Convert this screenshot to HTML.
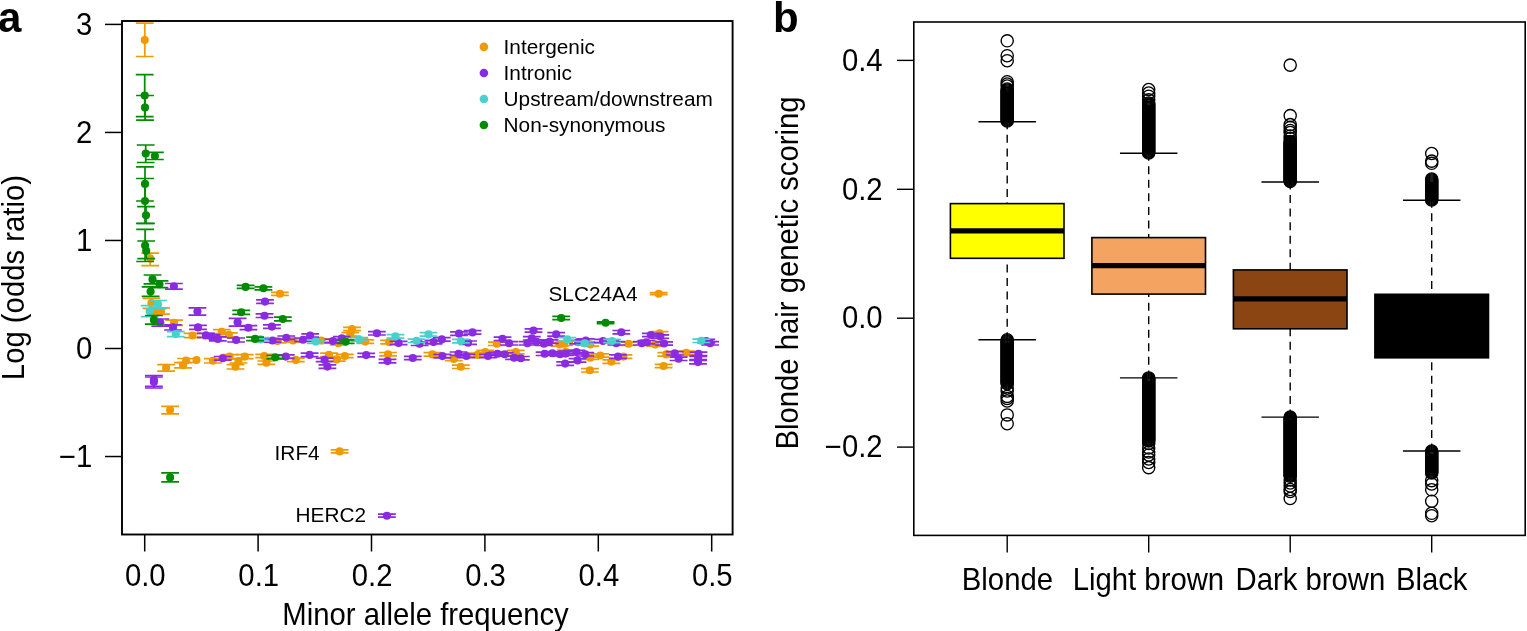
<!DOCTYPE html>
<html><head><meta charset="utf-8"><title>Figure</title>
<style>
html,body{margin:0;padding:0;background:#fff;}
body{width:1527px;height:631px;overflow:hidden;position:relative;}
svg{position:absolute;left:0;top:0;}
svg text{font-family:"Liberation Sans", Arial, Helvetica, sans-serif;fill:#000;}
</style></head><body>
<svg width="1527" height="631" viewBox="0 0 1527 631">
<rect width="1527" height="631" fill="#fff"/>
<text x="-2" y="31.5" font-size="42" font-weight="bold">a</text>
<text x="773" y="31.5" font-size="42" font-weight="bold">b</text>
<rect x="122" y="21" width="610.6" height="513.5" fill="none" stroke="#000" stroke-width="1.9"/>
<line x1="105" y1="24.41" x2="122" y2="24.41" stroke="#000" stroke-width="1.5"/>
<text transform="translate(92.3,34.61) scale(1,1.04)" text-anchor="end" font-size="29.3">3</text>
<line x1="105" y1="132.44" x2="122" y2="132.44" stroke="#000" stroke-width="1.5"/>
<text transform="translate(92.3,142.64) scale(1,1.04)" text-anchor="end" font-size="29.3">2</text>
<line x1="105" y1="240.47" x2="122" y2="240.47" stroke="#000" stroke-width="1.5"/>
<text transform="translate(92.3,250.67) scale(1,1.04)" text-anchor="end" font-size="29.3">1</text>
<line x1="105" y1="348.5" x2="122" y2="348.5" stroke="#000" stroke-width="1.5"/>
<text transform="translate(92.3,358.7) scale(1,1.04)" text-anchor="end" font-size="29.3">0</text>
<line x1="105" y1="456.53" x2="122" y2="456.53" stroke="#000" stroke-width="1.5"/>
<text transform="translate(92.3,466.73) scale(1,1.04)" text-anchor="end" font-size="29.3">−1</text>
<line x1="144.7" y1="534.5" x2="144.7" y2="551.5" stroke="#000" stroke-width="1.5"/>
<text transform="translate(145.3,586.2) scale(1,1.04)" text-anchor="middle" font-size="29.3">0.0</text>
<line x1="258.1" y1="534.5" x2="258.1" y2="551.5" stroke="#000" stroke-width="1.5"/>
<text transform="translate(258.7,586.2) scale(1,1.04)" text-anchor="middle" font-size="29.3">0.1</text>
<line x1="371.5" y1="534.5" x2="371.5" y2="551.5" stroke="#000" stroke-width="1.5"/>
<text transform="translate(372.1,586.2) scale(1,1.04)" text-anchor="middle" font-size="29.3">0.2</text>
<line x1="484.9" y1="534.5" x2="484.9" y2="551.5" stroke="#000" stroke-width="1.5"/>
<text transform="translate(485.5,586.2) scale(1,1.04)" text-anchor="middle" font-size="29.3">0.3</text>
<line x1="598.3" y1="534.5" x2="598.3" y2="551.5" stroke="#000" stroke-width="1.5"/>
<text transform="translate(598.9,586.2) scale(1,1.04)" text-anchor="middle" font-size="29.3">0.4</text>
<line x1="711.7" y1="534.5" x2="711.7" y2="551.5" stroke="#000" stroke-width="1.5"/>
<text transform="translate(712.3,586.2) scale(1,1.04)" text-anchor="middle" font-size="29.3">0.5</text>
<text transform="translate(425.5,625) scale(1,1.04)" text-anchor="middle" font-size="29.3">Minor allele frequency</text>
<text transform="translate(23.8,277.6) rotate(-90) scale(1,1.04)" text-anchor="middle" font-size="29.3">Log (odds ratio)</text>
<circle cx="483.9" cy="46.9" r="4.3" fill="#EE9A00"/>
<text x="503.6" y="54" font-size="20.8">Intergenic</text>
<circle cx="483.9" cy="72.95" r="4.3" fill="#8A2BE2"/>
<text x="503.6" y="80.05" font-size="20.8">Intronic</text>
<circle cx="483.9" cy="99" r="4.3" fill="#48D1CC"/>
<text x="503.6" y="106.1" font-size="20.8">Upstream/downstream</text>
<circle cx="483.9" cy="125.05" r="4.3" fill="#008B00"/>
<text x="503.6" y="132.15" font-size="20.8">Non-synonymous</text>
<text x="548.5" y="300.7" font-size="20.8">SLC24A4</text>
<text x="274.6" y="459.5" font-size="20.8">IRF4</text>
<text x="295.6" y="522.4" font-size="20.8">HERC2</text>
<g stroke-width="1.7" fill="none"><path d="M144.8 23.1V56.5M135.9 23.1H153.7M135.9 56.5H153.7" stroke="#EE9A00"/><circle cx="144.8" cy="40" r="4.05" fill="#EE9A00"/><path d="M150.2 253.1V265.6M141.3 253.1H159.1M141.3 265.6H159.1" stroke="#EE9A00"/><circle cx="150.2" cy="258.4" r="4.05" fill="#EE9A00"/><path d="M151.4 298.3V308.3M142.5 298.3H160.3M142.5 308.3H160.3" stroke="#EE9A00"/><circle cx="151.4" cy="303" r="4.05" fill="#EE9A00"/><path d="M161 307.9V314.1M152.1 307.9H169.9M152.1 314.1H169.9" stroke="#EE9A00"/><circle cx="161" cy="311.6" r="4.05" fill="#EE9A00"/><path d="M156.3 309.3V314.5M147.4 309.3H165.2M147.4 314.5H165.2" stroke="#EE9A00"/><circle cx="156.3" cy="311.9" r="4.05" fill="#EE9A00"/><path d="M174.1 320.1V325.3M165.2 320.1H183M165.2 325.3H183" stroke="#EE9A00"/><circle cx="174.1" cy="322.7" r="4.05" fill="#EE9A00"/><path d="M192.6 333.3V337.7M183.7 333.3H201.5M183.7 337.7H201.5" stroke="#EE9A00"/><circle cx="192.6" cy="335.5" r="4.05" fill="#EE9A00"/><path d="M221.8 329.7V333.7M212.9 329.7H230.7M212.9 333.7H230.7" stroke="#EE9A00"/><circle cx="221.8" cy="331.7" r="4.05" fill="#EE9A00"/><path d="M228.9 332.9V336.9M220 332.9H237.8M220 336.9H237.8" stroke="#EE9A00"/><circle cx="228.9" cy="334.9" r="4.05" fill="#EE9A00"/><path d="M279.9 292.3V295.3M271 292.3H288.8M271 295.3H288.8" stroke="#EE9A00"/><circle cx="279.9" cy="293.8" r="4.05" fill="#EE9A00"/><path d="M166.1 364.6V371.2M157.2 364.6H175M157.2 371.2H175" stroke="#EE9A00"/><circle cx="166.1" cy="367.9" r="4.05" fill="#EE9A00"/><path d="M183 362.7V367.9M174.1 362.7H191.9M174.1 367.9H191.9" stroke="#EE9A00"/><circle cx="183" cy="365.3" r="4.05" fill="#EE9A00"/><path d="M186.1 358.5V362.5M177.2 358.5H195M177.2 362.5H195" stroke="#EE9A00"/><circle cx="186.1" cy="360.5" r="4.05" fill="#EE9A00"/><circle cx="196.5" cy="360" r="4.05" fill="#EE9A00" stroke="none"/><path d="M212.9 358.6V363M204 358.6H221.8M204 363H221.8" stroke="#EE9A00"/><circle cx="212.9" cy="360.8" r="4.05" fill="#EE9A00"/><path d="M229.6 354.6V358.6M220.7 354.6H238.5M220.7 358.6H238.5" stroke="#EE9A00"/><circle cx="229.6" cy="356.6" r="4.05" fill="#EE9A00"/><path d="M235.5 364.6V369M226.6 364.6H244.4M226.6 369H244.4" stroke="#EE9A00"/><circle cx="235.5" cy="366.8" r="4.05" fill="#EE9A00"/><path d="M238.5 359V363M229.6 359H247.4M229.6 363H247.4" stroke="#EE9A00"/><circle cx="238.5" cy="361" r="4.05" fill="#EE9A00"/><path d="M244.8 354.6V358.6M235.9 354.6H253.7M235.9 358.6H253.7" stroke="#EE9A00"/><circle cx="244.8" cy="356.6" r="4.05" fill="#EE9A00"/><path d="M170.1 406.4V413.8M161.2 406.4H179M161.2 413.8H179" stroke="#EE9A00"/><circle cx="170.1" cy="410.1" r="4.05" fill="#EE9A00"/><path d="M277.5 339.4V342.8M268.6 339.4H286.4M268.6 342.8H286.4" stroke="#EE9A00"/><circle cx="277.5" cy="341.1" r="4.05" fill="#EE9A00"/><path d="M293 338.8V342.2M284.1 338.8H301.9M284.1 342.2H301.9" stroke="#EE9A00"/><circle cx="293" cy="340.5" r="4.05" fill="#EE9A00"/><path d="M321.3 338.8V342.2M312.4 338.8H330.2M312.4 342.2H330.2" stroke="#EE9A00"/><circle cx="321.3" cy="340.5" r="4.05" fill="#EE9A00"/><path d="M338.5 341.6V345M329.6 341.6H347.4M329.6 345H347.4" stroke="#EE9A00"/><circle cx="338.5" cy="343.3" r="4.05" fill="#EE9A00"/><path d="M352 327.3V330.7M343.1 327.3H360.9M343.1 330.7H360.9" stroke="#EE9A00"/><circle cx="352" cy="329" r="4.05" fill="#EE9A00"/><path d="M350.3 332.7V336.1M341.4 332.7H359.2M341.4 336.1H359.2" stroke="#EE9A00"/><circle cx="350.3" cy="334.4" r="4.05" fill="#EE9A00"/><path d="M264.2 354.3V357.7M255.3 354.3H273.1M255.3 357.7H273.1" stroke="#EE9A00"/><circle cx="264.2" cy="356" r="4.05" fill="#EE9A00"/><path d="M266.4 361V364.4M257.5 361H275.3M257.5 364.4H275.3" stroke="#EE9A00"/><circle cx="266.4" cy="362.7" r="4.05" fill="#EE9A00"/><path d="M295.8 358.2V361.6M286.9 358.2H304.7M286.9 361.6H304.7" stroke="#EE9A00"/><circle cx="295.8" cy="359.9" r="4.05" fill="#EE9A00"/><path d="M329 353.2V356.6M320.1 353.2H337.9M320.1 356.6H337.9" stroke="#EE9A00"/><circle cx="329" cy="354.9" r="4.05" fill="#EE9A00"/><path d="M336.8 357.7V361.1M327.9 357.7H345.7M327.9 361.1H345.7" stroke="#EE9A00"/><circle cx="336.8" cy="359.4" r="4.05" fill="#EE9A00"/><path d="M344.8 354.3V357.7M335.9 354.3H353.7M335.9 357.7H353.7" stroke="#EE9A00"/><circle cx="344.8" cy="356" r="4.05" fill="#EE9A00"/><path d="M365.3 339.9V343.3M356.4 339.9H374.2M356.4 343.3H374.2" stroke="#EE9A00"/><circle cx="365.3" cy="341.6" r="4.05" fill="#EE9A00"/><path d="M389.1 340.4V343.8M380.2 340.4H398M380.2 343.8H398" stroke="#EE9A00"/><circle cx="389.1" cy="342.1" r="4.05" fill="#EE9A00"/><path d="M388 352.5V355.9M379.1 352.5H396.9M379.1 355.9H396.9" stroke="#EE9A00"/><circle cx="388" cy="354.2" r="4.05" fill="#EE9A00"/><path d="M432.4 352.7V356.1M423.5 352.7H441.3M423.5 356.1H441.3" stroke="#EE9A00"/><circle cx="432.4" cy="354.4" r="4.05" fill="#EE9A00"/><path d="M453.8 357.3V360.7M444.9 357.3H462.7M444.9 360.7H462.7" stroke="#EE9A00"/><circle cx="453.8" cy="359" r="4.05" fill="#EE9A00"/><path d="M460.8 365.1V368.5M451.9 365.1H469.7M451.9 368.5H469.7" stroke="#EE9A00"/><circle cx="460.8" cy="366.8" r="4.05" fill="#EE9A00"/><path d="M496.9 342.1V345.5M488 342.1H505.8M488 345.5H505.8" stroke="#EE9A00"/><circle cx="496.9" cy="343.8" r="4.05" fill="#EE9A00"/><path d="M559.6 342.7V346.1M550.7 342.7H568.5M550.7 346.1H568.5" stroke="#EE9A00"/><circle cx="559.6" cy="344.4" r="4.05" fill="#EE9A00"/><path d="M477.5 353.2V356.6M468.6 353.2H486.4M468.6 356.6H486.4" stroke="#EE9A00"/><circle cx="477.5" cy="354.9" r="4.05" fill="#EE9A00"/><path d="M485.3 350.4V353.8M476.4 350.4H494.2M476.4 353.8H494.2" stroke="#EE9A00"/><circle cx="485.3" cy="352.1" r="4.05" fill="#EE9A00"/><path d="M515.8 350.4V353.8M506.9 350.4H524.7M506.9 353.8H524.7" stroke="#EE9A00"/><circle cx="515.8" cy="352.1" r="4.05" fill="#EE9A00"/><path d="M566 350.1V353.5M557.1 350.1H574.9M557.1 353.5H574.9" stroke="#EE9A00"/><circle cx="566" cy="351.8" r="4.05" fill="#EE9A00"/><path d="M564.2 342.1V345.5M555.3 342.1H573.1M555.3 345.5H573.1" stroke="#EE9A00"/><circle cx="564.2" cy="343.8" r="4.05" fill="#EE9A00"/><path d="M590.3 342.7V346.1M581.4 342.7H599.2M581.4 346.1H599.2" stroke="#EE9A00"/><circle cx="590.3" cy="344.4" r="4.05" fill="#EE9A00"/><path d="M628.5 342.1V345.5M619.6 342.1H637.4M619.6 345.5H637.4" stroke="#EE9A00"/><circle cx="628.5" cy="343.8" r="4.05" fill="#EE9A00"/><path d="M659.7 331.6V335M650.8 331.6H668.6M650.8 335H668.6" stroke="#EE9A00"/><circle cx="659.7" cy="333.3" r="4.05" fill="#EE9A00"/><path d="M655.3 342.7V346.1M646.4 342.7H664.2M646.4 346.1H664.2" stroke="#EE9A00"/><circle cx="655.3" cy="344.4" r="4.05" fill="#EE9A00"/><path d="M590.3 356V359.4M581.4 356H599.2M581.4 359.4H599.2" stroke="#EE9A00"/><circle cx="590.3" cy="357.7" r="4.05" fill="#EE9A00"/><path d="M600.3 353.8V357.2M591.4 353.8H609.2M591.4 357.2H609.2" stroke="#EE9A00"/><circle cx="600.3" cy="355.5" r="4.05" fill="#EE9A00"/><path d="M611.4 359.9V363.3M602.5 359.9H620.3M602.5 363.3H620.3" stroke="#EE9A00"/><circle cx="611.4" cy="361.6" r="4.05" fill="#EE9A00"/><path d="M623.5 354.9V358.3M614.6 354.9H632.4M614.6 358.3H632.4" stroke="#EE9A00"/><circle cx="623.5" cy="356.6" r="4.05" fill="#EE9A00"/><path d="M589.9 368.6V372M581 368.6H598.8M581 372H598.8" stroke="#EE9A00"/><circle cx="589.9" cy="370.3" r="4.05" fill="#EE9A00"/><path d="M666.3 352.7V356.1M657.4 352.7H675.2M657.4 356.1H675.2" stroke="#EE9A00"/><circle cx="666.3" cy="354.4" r="4.05" fill="#EE9A00"/><path d="M663.6 364.3V367.7M654.7 364.3H672.5M654.7 367.7H672.5" stroke="#EE9A00"/><circle cx="663.6" cy="366" r="4.05" fill="#EE9A00"/><path d="M686.3 351V354.4M677.4 351H695.2M677.4 354.4H695.2" stroke="#EE9A00"/><circle cx="686.3" cy="352.7" r="4.05" fill="#EE9A00"/><path d="M658.7 292.7V294.7M649.8 292.7H667.6M649.8 294.7H667.6" stroke="#EE9A00"/><circle cx="658.7" cy="293.7" r="4.05" fill="#EE9A00"/><path d="M339.6 449.9V452.9M330.7 449.9H348.5M330.7 452.9H348.5" stroke="#EE9A00"/><circle cx="339.6" cy="451.4" r="4.05" fill="#EE9A00"/><path d="M173.9 283.5V289.2M165 283.5H182.8M165 289.2H182.8" stroke="#8A2BE2"/><circle cx="173.9" cy="286.2" r="4.05" fill="#8A2BE2"/><path d="M160.3 319V326.2M151.4 319H169.2M151.4 326.2H169.2" stroke="#8A2BE2"/><circle cx="160.3" cy="322.6" r="4.05" fill="#8A2BE2"/><path d="M173 324.8V330M164.1 324.8H181.9M164.1 330H181.9" stroke="#8A2BE2"/><circle cx="173" cy="327.4" r="4.05" fill="#8A2BE2"/><path d="M197.4 307.9V315.1M188.5 307.9H206.3M188.5 315.1H206.3" stroke="#8A2BE2"/><circle cx="197.4" cy="311.5" r="4.05" fill="#8A2BE2"/><path d="M198 325.4V329.4M189.1 325.4H206.9M189.1 329.4H206.9" stroke="#8A2BE2"/><circle cx="198" cy="327.4" r="4.05" fill="#8A2BE2"/><path d="M205.9 333.3V337.3M197 333.3H214.8M197 337.3H214.8" stroke="#8A2BE2"/><circle cx="205.9" cy="335.3" r="4.05" fill="#8A2BE2"/><path d="M211.5 334.5V338.5M202.6 334.5H220.4M202.6 338.5H220.4" stroke="#8A2BE2"/><circle cx="211.5" cy="336.5" r="4.05" fill="#8A2BE2"/><path d="M217.8 336.9V340.9M208.9 336.9H226.7M208.9 340.9H226.7" stroke="#8A2BE2"/><circle cx="217.8" cy="338.9" r="4.05" fill="#8A2BE2"/><path d="M236.1 338V342M227.2 338H245M227.2 342H245" stroke="#8A2BE2"/><circle cx="236.1" cy="340" r="4.05" fill="#8A2BE2"/><path d="M237.6 318.3V326.1M228.7 318.3H246.5M228.7 326.1H246.5" stroke="#8A2BE2"/><circle cx="237.6" cy="322.2" r="4.05" fill="#8A2BE2"/><path d="M248.4 325.7V329.7M239.5 325.7H257.3M239.5 329.7H257.3" stroke="#8A2BE2"/><circle cx="248.4" cy="327.7" r="4.05" fill="#8A2BE2"/><path d="M265 299.8V303.4M256.1 299.8H273.9M256.1 303.4H273.9" stroke="#8A2BE2"/><circle cx="265" cy="301.6" r="4.05" fill="#8A2BE2"/><path d="M264.5 313.9V317.5M255.6 313.9H273.4M255.6 317.5H273.4" stroke="#8A2BE2"/><circle cx="264.5" cy="315.7" r="4.05" fill="#8A2BE2"/><path d="M271.9 324.8V328.4M263 324.8H280.8M263 328.4H280.8" stroke="#8A2BE2"/><circle cx="271.9" cy="326.6" r="4.05" fill="#8A2BE2"/><path d="M153.9 375.5V386.3M145 375.5H162.8M145 386.3H162.8" stroke="#8A2BE2"/><circle cx="153.9" cy="379.8" r="4.05" fill="#8A2BE2"/><path d="M153.9 377V388M145 377H162.8M145 388H162.8" stroke="#8A2BE2"/><circle cx="153.9" cy="382" r="4.05" fill="#8A2BE2"/><path d="M222.7 356.5V360.1M213.8 356.5H231.6M213.8 360.1H231.6" stroke="#8A2BE2"/><circle cx="222.7" cy="358.3" r="4.05" fill="#8A2BE2"/><path d="M272.5 338.8V342.2M263.6 338.8H281.4M263.6 342.2H281.4" stroke="#8A2BE2"/><circle cx="272.5" cy="340.5" r="4.05" fill="#8A2BE2"/><path d="M286.3 336V339.4M277.4 336H295.2M277.4 339.4H295.2" stroke="#8A2BE2"/><circle cx="286.3" cy="337.7" r="4.05" fill="#8A2BE2"/><path d="M303 338V341.4M294.1 338H311.9M294.1 341.4H311.9" stroke="#8A2BE2"/><circle cx="303" cy="339.7" r="4.05" fill="#8A2BE2"/><path d="M310.2 333.8V337.2M301.3 333.8H319.1M301.3 337.2H319.1" stroke="#8A2BE2"/><circle cx="310.2" cy="335.5" r="4.05" fill="#8A2BE2"/><path d="M332.9 339.4V342.8M324 339.4H341.8M324 342.8H341.8" stroke="#8A2BE2"/><circle cx="332.9" cy="341.1" r="4.05" fill="#8A2BE2"/><path d="M341.8 336.6V340M332.9 336.6H350.7M332.9 340H350.7" stroke="#8A2BE2"/><circle cx="341.8" cy="338.3" r="4.05" fill="#8A2BE2"/><path d="M285.8 354.9V358.3M276.9 354.9H294.7M276.9 358.3H294.7" stroke="#8A2BE2"/><circle cx="285.8" cy="356.6" r="4.05" fill="#8A2BE2"/><path d="M309.6 353.2V356.6M300.7 353.2H318.5M300.7 356.6H318.5" stroke="#8A2BE2"/><circle cx="309.6" cy="354.9" r="4.05" fill="#8A2BE2"/><path d="M324.6 358.2V361.6M315.7 358.2H333.5M315.7 361.6H333.5" stroke="#8A2BE2"/><circle cx="324.6" cy="359.9" r="4.05" fill="#8A2BE2"/><path d="M327.4 364.9V368.3M318.5 364.9H336.3M318.5 368.3H336.3" stroke="#8A2BE2"/><circle cx="327.4" cy="366.6" r="4.05" fill="#8A2BE2"/><path d="M376.9 331.6V335M368 331.6H385.8M368 335H385.8" stroke="#8A2BE2"/><circle cx="376.9" cy="333.3" r="4.05" fill="#8A2BE2"/><path d="M398.6 341.3V344.7M389.7 341.3H407.5M389.7 344.7H407.5" stroke="#8A2BE2"/><circle cx="398.6" cy="343" r="4.05" fill="#8A2BE2"/><path d="M419.6 342.1V345.5M410.7 342.1H428.5M410.7 345.5H428.5" stroke="#8A2BE2"/><circle cx="419.6" cy="343.8" r="4.05" fill="#8A2BE2"/><path d="M433.5 340.4V343.8M424.6 340.4H442.4M424.6 343.8H442.4" stroke="#8A2BE2"/><circle cx="433.5" cy="342.1" r="4.05" fill="#8A2BE2"/><path d="M441.8 337.7V341.1M432.9 337.7H450.7M432.9 341.1H450.7" stroke="#8A2BE2"/><circle cx="441.8" cy="339.4" r="4.05" fill="#8A2BE2"/><path d="M459 331.9V335.3M450.1 331.9H467.9M450.1 335.3H467.9" stroke="#8A2BE2"/><circle cx="459" cy="333.6" r="4.05" fill="#8A2BE2"/><path d="M366.2 353.4V356.8M357.3 353.4H375.1M357.3 356.8H375.1" stroke="#8A2BE2"/><circle cx="366.2" cy="355.1" r="4.05" fill="#8A2BE2"/><path d="M387.5 359.4V362.8M378.6 359.4H396.4M378.6 362.8H396.4" stroke="#8A2BE2"/><circle cx="387.5" cy="361.1" r="4.05" fill="#8A2BE2"/><path d="M412.8 356.3V359.7M403.9 356.3H421.7M403.9 359.7H421.7" stroke="#8A2BE2"/><circle cx="412.8" cy="358" r="4.05" fill="#8A2BE2"/><path d="M442.4 354.4V357.8M433.5 354.4H451.3M433.5 357.8H451.3" stroke="#8A2BE2"/><circle cx="442.4" cy="356.1" r="4.05" fill="#8A2BE2"/><path d="M458.5 352V355.4M449.6 352H467.4M449.6 355.4H467.4" stroke="#8A2BE2"/><circle cx="458.5" cy="353.7" r="4.05" fill="#8A2BE2"/><path d="M472.5 330.7V334.1M463.6 330.7H481.4M463.6 334.1H481.4" stroke="#8A2BE2"/><circle cx="472.5" cy="332.4" r="4.05" fill="#8A2BE2"/><path d="M468.1 341V344.4M459.2 341H477M459.2 344.4H477" stroke="#8A2BE2"/><circle cx="468.1" cy="342.7" r="4.05" fill="#8A2BE2"/><path d="M502.5 337.1V340.5M493.6 337.1H511.4M493.6 340.5H511.4" stroke="#8A2BE2"/><circle cx="502.5" cy="338.8" r="4.05" fill="#8A2BE2"/><path d="M509.1 341.6V345M500.2 341.6H518M500.2 345H518" stroke="#8A2BE2"/><circle cx="509.1" cy="343.3" r="4.05" fill="#8A2BE2"/><path d="M533.5 328.8V332.2M524.6 328.8H542.4M524.6 332.2H542.4" stroke="#8A2BE2"/><circle cx="533.5" cy="330.5" r="4.05" fill="#8A2BE2"/><path d="M531.8 336.6V340M522.9 336.6H540.7M522.9 340H540.7" stroke="#8A2BE2"/><circle cx="531.8" cy="338.3" r="4.05" fill="#8A2BE2"/><path d="M527.4 341.6V345M518.5 341.6H536.3M518.5 345H536.3" stroke="#8A2BE2"/><circle cx="527.4" cy="343.3" r="4.05" fill="#8A2BE2"/><path d="M536.3 339.9V343.3M527.4 339.9H545.2M527.4 343.3H545.2" stroke="#8A2BE2"/><circle cx="536.3" cy="341.6" r="4.05" fill="#8A2BE2"/><path d="M544 342.1V345.5M535.1 342.1H552.9M535.1 345.5H552.9" stroke="#8A2BE2"/><circle cx="544" cy="343.8" r="4.05" fill="#8A2BE2"/><path d="M549.6 339.9V343.3M540.7 339.9H558.5M540.7 343.3H558.5" stroke="#8A2BE2"/><circle cx="549.6" cy="341.6" r="4.05" fill="#8A2BE2"/><path d="M556.2 332.7V336.1M547.3 332.7H565.1M547.3 336.1H565.1" stroke="#8A2BE2"/><circle cx="556.2" cy="334.4" r="4.05" fill="#8A2BE2"/><path d="M466.4 354.3V357.7M457.5 354.3H475.3M457.5 357.7H475.3" stroke="#8A2BE2"/><circle cx="466.4" cy="356" r="4.05" fill="#8A2BE2"/><path d="M488 354.3V357.7M479.1 354.3H496.9M479.1 357.7H496.9" stroke="#8A2BE2"/><circle cx="488" cy="356" r="4.05" fill="#8A2BE2"/><path d="M497.5 352.1V355.5M488.6 352.1H506.4M488.6 355.5H506.4" stroke="#8A2BE2"/><circle cx="497.5" cy="353.8" r="4.05" fill="#8A2BE2"/><path d="M504.7 352.6V356M495.8 352.6H513.6M495.8 356H513.6" stroke="#8A2BE2"/><circle cx="504.7" cy="354.3" r="4.05" fill="#8A2BE2"/><path d="M514.1 356V359.4M505.2 356H523M505.2 359.4H523" stroke="#8A2BE2"/><circle cx="514.1" cy="357.7" r="4.05" fill="#8A2BE2"/><path d="M520.8 356.5V359.9M511.9 356.5H529.7M511.9 359.9H529.7" stroke="#8A2BE2"/><circle cx="520.8" cy="358.2" r="4.05" fill="#8A2BE2"/><path d="M544.6 352.1V355.5M535.7 352.1H553.5M535.7 355.5H553.5" stroke="#8A2BE2"/><circle cx="544.6" cy="353.8" r="4.05" fill="#8A2BE2"/><path d="M552.4 351.5V354.9M543.5 351.5H561.3M543.5 354.9H561.3" stroke="#8A2BE2"/><circle cx="552.4" cy="353.2" r="4.05" fill="#8A2BE2"/><path d="M560.1 352.6V356M551.2 352.6H569M551.2 356H569" stroke="#8A2BE2"/><circle cx="560.1" cy="354.3" r="4.05" fill="#8A2BE2"/><path d="M565.2 361.9V365.3M556.3 361.9H574.1M556.3 365.3H574.1" stroke="#8A2BE2"/><circle cx="565.2" cy="363.6" r="4.05" fill="#8A2BE2"/><path d="M621.3 330.5V333.9M612.4 330.5H630.2M612.4 333.9H630.2" stroke="#8A2BE2"/><circle cx="621.3" cy="332.2" r="4.05" fill="#8A2BE2"/><path d="M578.1 340.4V343.8M569.2 340.4H587M569.2 343.8H587" stroke="#8A2BE2"/><circle cx="578.1" cy="342.1" r="4.05" fill="#8A2BE2"/><path d="M585.8 338.8V342.2M576.9 338.8H594.7M576.9 342.2H594.7" stroke="#8A2BE2"/><circle cx="585.8" cy="340.5" r="4.05" fill="#8A2BE2"/><path d="M603 339.3V342.7M594.1 339.3H611.9M594.1 342.7H611.9" stroke="#8A2BE2"/><circle cx="603" cy="341" r="4.05" fill="#8A2BE2"/><path d="M616.3 341.6V345M607.4 341.6H625.2M607.4 345H625.2" stroke="#8A2BE2"/><circle cx="616.3" cy="343.3" r="4.05" fill="#8A2BE2"/><path d="M641.8 341.6V345M632.9 341.6H650.7M632.9 345H650.7" stroke="#8A2BE2"/><circle cx="641.8" cy="343.3" r="4.05" fill="#8A2BE2"/><path d="M646.4 340.5V343.9M637.5 340.5H655.3M637.5 343.9H655.3" stroke="#8A2BE2"/><circle cx="646.4" cy="342.2" r="4.05" fill="#8A2BE2"/><path d="M650.8 333.3V336.7M641.9 333.3H659.7M641.9 336.7H659.7" stroke="#8A2BE2"/><circle cx="650.8" cy="335" r="4.05" fill="#8A2BE2"/><path d="M660.3 334.9V338.3M651.4 334.9H669.2M651.4 338.3H669.2" stroke="#8A2BE2"/><circle cx="660.3" cy="336.6" r="4.05" fill="#8A2BE2"/><path d="M664.1 341.8V345.2M655.2 341.8H673M655.2 345.2H673" stroke="#8A2BE2"/><circle cx="664.1" cy="343.5" r="4.05" fill="#8A2BE2"/><path d="M565.3 351.9V355.3M556.4 351.9H574.2M556.4 355.3H574.2" stroke="#8A2BE2"/><circle cx="565.3" cy="353.6" r="4.05" fill="#8A2BE2"/><path d="M576.4 350.4V353.8M567.5 350.4H585.3M567.5 353.8H585.3" stroke="#8A2BE2"/><circle cx="576.4" cy="352.1" r="4.05" fill="#8A2BE2"/><path d="M585.3 352.6V356M576.4 352.6H594.2M576.4 356H594.2" stroke="#8A2BE2"/><circle cx="585.3" cy="354.3" r="4.05" fill="#8A2BE2"/><path d="M577.5 358.7V362.1M568.6 358.7H586.4M568.6 362.1H586.4" stroke="#8A2BE2"/><circle cx="577.5" cy="360.4" r="4.05" fill="#8A2BE2"/><path d="M618 354.9V358.3M609.1 354.9H626.9M609.1 358.3H626.9" stroke="#8A2BE2"/><circle cx="618" cy="356.6" r="4.05" fill="#8A2BE2"/><path d="M674.7 351.6V355M665.8 351.6H683.6M665.8 355H683.6" stroke="#8A2BE2"/><circle cx="674.7" cy="353.3" r="4.05" fill="#8A2BE2"/><path d="M678.6 357.1V360.5M669.7 357.1H687.5M669.7 360.5H687.5" stroke="#8A2BE2"/><circle cx="678.6" cy="358.8" r="4.05" fill="#8A2BE2"/><path d="M698.5 352.1V355.5M689.6 352.1H707.4M689.6 355.5H707.4" stroke="#8A2BE2"/><circle cx="698.5" cy="353.8" r="4.05" fill="#8A2BE2"/><path d="M698 360.4V363.8M689.1 360.4H706.9M689.1 363.8H706.9" stroke="#8A2BE2"/><circle cx="698" cy="362.1" r="4.05" fill="#8A2BE2"/><path d="M698.2 356.3V359.7M689.3 356.3H707.1M689.3 359.7H707.1" stroke="#8A2BE2"/><circle cx="698.2" cy="358" r="4.05" fill="#8A2BE2"/><path d="M706.3 339.4V342.8M697.4 339.4H715.2M697.4 342.8H715.2" stroke="#8A2BE2"/><circle cx="706.3" cy="341.1" r="4.05" fill="#8A2BE2"/><path d="M710.2 341.6V345M701.3 341.6H719.1M701.3 345H719.1" stroke="#8A2BE2"/><circle cx="710.2" cy="343.3" r="4.05" fill="#8A2BE2"/><path d="M386.9 514.2V517.2M378 514.2H395.8M378 517.2H395.8" stroke="#8A2BE2"/><circle cx="386.9" cy="515.7" r="4.05" fill="#8A2BE2"/><path d="M158 300.5V308.3M149.1 300.5H166.9M149.1 308.3H166.9" stroke="#48D1CC"/><circle cx="158" cy="304.4" r="4.05" fill="#48D1CC"/><path d="M149.7 305.7V316.6M140.8 305.7H158.6M140.8 316.6H158.6" stroke="#48D1CC"/><circle cx="149.7" cy="311.3" r="4.05" fill="#48D1CC"/><path d="M175.8 331.6V336.6M166.9 331.6H184.7M166.9 336.6H184.7" stroke="#48D1CC"/><circle cx="175.8" cy="334.1" r="4.05" fill="#48D1CC"/><path d="M260.6 337.7V341.1M251.7 337.7H269.5M251.7 341.1H269.5" stroke="#48D1CC"/><circle cx="260.6" cy="339.4" r="4.05" fill="#48D1CC"/><path d="M315.7 339.9V343.3M306.8 339.9H324.6M306.8 343.3H324.6" stroke="#48D1CC"/><circle cx="315.7" cy="341.6" r="4.05" fill="#48D1CC"/><path d="M359.2 337.7V341.1M350.3 337.7H368.1M350.3 341.1H368.1" stroke="#48D1CC"/><circle cx="359.2" cy="339.4" r="4.05" fill="#48D1CC"/><path d="M395.5 334.7V338.1M386.6 334.7H404.4M386.6 338.1H404.4" stroke="#48D1CC"/><circle cx="395.5" cy="336.4" r="4.05" fill="#48D1CC"/><path d="M416.5 339.1V342.5M407.6 339.1H425.4M407.6 342.5H425.4" stroke="#48D1CC"/><circle cx="416.5" cy="340.8" r="4.05" fill="#48D1CC"/><path d="M428.5 332.7V336.1M419.6 332.7H437.4M419.6 336.1H437.4" stroke="#48D1CC"/><circle cx="428.5" cy="334.4" r="4.05" fill="#48D1CC"/><path d="M460.8 339.4V342.8M451.9 339.4H469.7M451.9 342.8H469.7" stroke="#48D1CC"/><circle cx="460.8" cy="341.1" r="4.05" fill="#48D1CC"/><path d="M567.3 337.7V341.1M558.4 337.7H576.2M558.4 341.1H576.2" stroke="#48D1CC"/><circle cx="567.3" cy="339.4" r="4.05" fill="#48D1CC"/><path d="M584.7 341.6V345M575.8 341.6H593.6M575.8 345H593.6" stroke="#48D1CC"/><circle cx="584.7" cy="343.3" r="4.05" fill="#48D1CC"/><path d="M612.1 339.3V342.7M603.2 339.3H621M603.2 342.7H621" stroke="#48D1CC"/><circle cx="612.1" cy="341" r="4.05" fill="#48D1CC"/><path d="M701.3 339.1V342.5M692.4 339.1H710.2M692.4 342.5H710.2" stroke="#48D1CC"/><circle cx="701.3" cy="340.8" r="4.05" fill="#48D1CC"/><path d="M144.7 74.7V116.6M135.8 74.7H153.6M135.8 116.6H153.6" stroke="#008B00"/><circle cx="144.7" cy="95.5" r="4.05" fill="#008B00"/><path d="M145 95.5V120.1M136.1 95.5H153.9M136.1 120.1H153.9" stroke="#008B00"/><circle cx="145" cy="107.5" r="4.05" fill="#008B00"/><path d="M145.7 145V162.5M136.8 145H154.6M136.8 162.5H154.6" stroke="#008B00"/><circle cx="145.7" cy="153.5" r="4.05" fill="#008B00"/><path d="M154.9 152.4V159.5M146 152.4H163.8M146 159.5H163.8" stroke="#008B00"/><circle cx="154.9" cy="156" r="4.05" fill="#008B00"/><path d="M145 166.8V201M136.1 166.8H153.9M136.1 201H153.9" stroke="#008B00"/><circle cx="145" cy="183.9" r="4.05" fill="#008B00"/><path d="M145 178.5V223.3M136.1 178.5H153.9M136.1 223.3H153.9" stroke="#008B00"/><circle cx="145" cy="201" r="4.05" fill="#008B00"/><path d="M146 206.7V223.5M137.1 206.7H154.9M137.1 223.5H154.9" stroke="#008B00"/><circle cx="146" cy="215.2" r="4.05" fill="#008B00"/><path d="M145.1 229.3V261.5M136.2 229.3H154M136.2 261.5H154" stroke="#008B00"/><circle cx="145.1" cy="245.5" r="4.05" fill="#008B00"/><path d="M146.2 241V258.6M137.3 241H155.1M137.3 258.6H155.1" stroke="#008B00"/><circle cx="146.2" cy="250.9" r="4.05" fill="#008B00"/><path d="M152.5 275V283.9M143.6 275H161.4M143.6 283.9H161.4" stroke="#008B00"/><circle cx="152.5" cy="279.4" r="4.05" fill="#008B00"/><path d="M159.5 280.9V287.7M150.6 280.9H168.4M150.6 287.7H168.4" stroke="#008B00"/><circle cx="159.5" cy="284.2" r="4.05" fill="#008B00"/><path d="M150.6 286.9V296.3M141.7 286.9H159.5M141.7 296.3H159.5" stroke="#008B00"/><circle cx="150.6" cy="291.6" r="4.05" fill="#008B00"/><path d="M153.9 315.5V324.1M145 315.5H162.8M145 324.1H162.8" stroke="#008B00"/><circle cx="153.9" cy="319.9" r="4.05" fill="#008B00"/><path d="M241.2 310.3V314.3M232.3 310.3H250.1M232.3 314.3H250.1" stroke="#008B00"/><circle cx="241.2" cy="312.3" r="4.05" fill="#008B00"/><path d="M245.6 285.4V288.4M236.7 285.4H254.5M236.7 288.4H254.5" stroke="#008B00"/><circle cx="245.6" cy="286.9" r="4.05" fill="#008B00"/><path d="M263.4 286.8V289.8M254.5 286.8H272.3M254.5 289.8H272.3" stroke="#008B00"/><circle cx="263.4" cy="288.3" r="4.05" fill="#008B00"/><path d="M282.8 317.2V320.8M273.9 317.2H291.7M273.9 320.8H291.7" stroke="#008B00"/><circle cx="282.8" cy="319" r="4.05" fill="#008B00"/><path d="M170.1 472.9V481.9M161.2 472.9H179M161.2 481.9H179" stroke="#008B00"/><circle cx="170.1" cy="477.4" r="4.05" fill="#008B00"/><path d="M255.1 337.2V340.6M246.2 337.2H264M246.2 340.6H264" stroke="#008B00"/><circle cx="255.1" cy="338.9" r="4.05" fill="#008B00"/><path d="M345.7 339.9V343.3M336.8 339.9H354.6M336.8 343.3H354.6" stroke="#008B00"/><circle cx="345.7" cy="341.6" r="4.05" fill="#008B00"/><path d="M275.3 355.5V358.9M266.4 355.5H284.2M266.4 358.9H284.2" stroke="#008B00"/><circle cx="275.3" cy="357.2" r="4.05" fill="#008B00"/><path d="M561.2 316.3V319.7M552.3 316.3H570.1M552.3 319.7H570.1" stroke="#008B00"/><circle cx="561.2" cy="318" r="4.05" fill="#008B00"/><path d="M605.6 321.9V323.7M596.7 321.9H614.5M596.7 323.7H614.5" stroke="#008B00"/><circle cx="605.6" cy="322.8" r="4.05" fill="#008B00"/></g>
<rect x="913.8" y="22" width="611.4" height="513.4" fill="none" stroke="#000" stroke-width="1.6"/>
<line x1="897" y1="60.4" x2="913.8" y2="60.4" stroke="#000" stroke-width="1.4"/>
<text transform="translate(882.6,70.6) scale(1,1.04)" text-anchor="end" font-size="29.3">0.4</text>
<line x1="897" y1="189.3" x2="913.8" y2="189.3" stroke="#000" stroke-width="1.4"/>
<text transform="translate(882.6,199.5) scale(1,1.04)" text-anchor="end" font-size="29.3">0.2</text>
<line x1="897" y1="318.2" x2="913.8" y2="318.2" stroke="#000" stroke-width="1.4"/>
<text transform="translate(882.6,328.4) scale(1,1.04)" text-anchor="end" font-size="29.3">0.0</text>
<line x1="897" y1="447.1" x2="913.8" y2="447.1" stroke="#000" stroke-width="1.4"/>
<text transform="translate(882.6,457.3) scale(1,1.04)" text-anchor="end" font-size="29.3">−0.2</text>
<line x1="1007.2" y1="535.4" x2="1007.2" y2="552.5" stroke="#000" stroke-width="1.4"/>
<text transform="translate(1007.4,589.7) scale(1,1.04)" text-anchor="middle" font-size="29.3">Blonde</text>
<line x1="1148.7" y1="535.4" x2="1148.7" y2="552.5" stroke="#000" stroke-width="1.4"/>
<text transform="translate(1148.4,589.7) scale(1,1.04)" text-anchor="middle" font-size="29.3">Light brown</text>
<line x1="1290.2" y1="535.4" x2="1290.2" y2="552.5" stroke="#000" stroke-width="1.4"/>
<text transform="translate(1310.4,589.7) scale(1,1.04)" text-anchor="middle" font-size="29.3">Dark brown</text>
<line x1="1431.7" y1="535.4" x2="1431.7" y2="552.5" stroke="#000" stroke-width="1.4"/>
<text transform="translate(1431.7,589.7) scale(1,1.04)" text-anchor="middle" font-size="29.3">Black</text>
<text transform="translate(798.3,273) rotate(-90) scale(1,1.04)" text-anchor="middle" font-size="29.3">Blonde hair genetic scoring</text>
<line x1="1007.2" y1="121.3" x2="1007.2" y2="203.6" stroke="#000" stroke-width="1.4" stroke-dasharray="8 5.55"/>
<line x1="1007.2" y1="340.2" x2="1007.2" y2="258.3" stroke="#000" stroke-width="1.4" stroke-dasharray="8 5.55"/>
<line x1="978.45" y1="121.8" x2="1035.95" y2="121.8" stroke="#000" stroke-width="1.4"/>
<line x1="978.45" y1="339.7" x2="1035.95" y2="339.7" stroke="#000" stroke-width="1.4"/>
<rect x="950.4" y="203.6" width="113.6" height="54.7" fill="#FFFF00" stroke="#000" stroke-width="1.6"/>
<line x1="950.4" y1="230.9" x2="1064" y2="230.9" stroke="#000" stroke-width="5.1"/>
<g fill="none" stroke="#000" stroke-width="1.35"><circle cx="1007.2" cy="89" r="6.1"/><circle cx="1007.2" cy="90" r="6.1"/><circle cx="1007.2" cy="91" r="6.1"/><circle cx="1007.2" cy="92" r="6.1"/><circle cx="1007.2" cy="93" r="6.1"/><circle cx="1007.2" cy="94" r="6.1"/><circle cx="1007.2" cy="95" r="6.1"/><circle cx="1007.2" cy="96" r="6.1"/><circle cx="1007.2" cy="97" r="6.1"/><circle cx="1007.2" cy="98" r="6.1"/><circle cx="1007.2" cy="99" r="6.1"/><circle cx="1007.2" cy="100" r="6.1"/><circle cx="1007.2" cy="101" r="6.1"/><circle cx="1007.2" cy="102" r="6.1"/><circle cx="1007.2" cy="103" r="6.1"/><circle cx="1007.2" cy="104" r="6.1"/><circle cx="1007.2" cy="105" r="6.1"/><circle cx="1007.2" cy="106" r="6.1"/><circle cx="1007.2" cy="107" r="6.1"/><circle cx="1007.2" cy="108" r="6.1"/><circle cx="1007.2" cy="109" r="6.1"/><circle cx="1007.2" cy="110" r="6.1"/><circle cx="1007.2" cy="111" r="6.1"/><circle cx="1007.2" cy="112" r="6.1"/><circle cx="1007.2" cy="113" r="6.1"/><circle cx="1007.2" cy="114" r="6.1"/><circle cx="1007.2" cy="115" r="6.1"/><circle cx="1007.2" cy="116" r="6.1"/><circle cx="1007.2" cy="117" r="6.1"/><circle cx="1007.2" cy="118" r="6.1"/><circle cx="1007.2" cy="119" r="6.1"/><circle cx="1007.2" cy="120" r="6.1"/><circle cx="1007.2" cy="121" r="6.1"/><circle cx="1007.2" cy="339.7" r="6.1"/><circle cx="1007.2" cy="340.7" r="6.1"/><circle cx="1007.2" cy="341.7" r="6.1"/><circle cx="1007.2" cy="342.7" r="6.1"/><circle cx="1007.2" cy="343.7" r="6.1"/><circle cx="1007.2" cy="344.7" r="6.1"/><circle cx="1007.2" cy="345.7" r="6.1"/><circle cx="1007.2" cy="346.7" r="6.1"/><circle cx="1007.2" cy="347.7" r="6.1"/><circle cx="1007.2" cy="348.7" r="6.1"/><circle cx="1007.2" cy="349.7" r="6.1"/><circle cx="1007.2" cy="350.7" r="6.1"/><circle cx="1007.2" cy="351.7" r="6.1"/><circle cx="1007.2" cy="352.7" r="6.1"/><circle cx="1007.2" cy="353.7" r="6.1"/><circle cx="1007.2" cy="354.7" r="6.1"/><circle cx="1007.2" cy="355.7" r="6.1"/><circle cx="1007.2" cy="356.7" r="6.1"/><circle cx="1007.2" cy="357.7" r="6.1"/><circle cx="1007.2" cy="358.7" r="6.1"/><circle cx="1007.2" cy="359.7" r="6.1"/><circle cx="1007.2" cy="360.7" r="6.1"/><circle cx="1007.2" cy="361.7" r="6.1"/><circle cx="1007.2" cy="362.7" r="6.1"/><circle cx="1007.2" cy="363.7" r="6.1"/><circle cx="1007.2" cy="364.7" r="6.1"/><circle cx="1007.2" cy="365.7" r="6.1"/><circle cx="1007.2" cy="366.7" r="6.1"/><circle cx="1007.2" cy="367.7" r="6.1"/><circle cx="1007.2" cy="368.7" r="6.1"/><circle cx="1007.2" cy="369.7" r="6.1"/><circle cx="1007.2" cy="370.7" r="6.1"/><circle cx="1007.2" cy="371.7" r="6.1"/><circle cx="1007.2" cy="372.7" r="6.1"/><circle cx="1007.2" cy="373.7" r="6.1"/><circle cx="1007.2" cy="374.7" r="6.1"/><circle cx="1007.2" cy="375.7" r="6.1"/><circle cx="1007.2" cy="376.7" r="6.1"/><circle cx="1007.2" cy="377.7" r="6.1"/><circle cx="1007.2" cy="378.7" r="6.1"/><circle cx="1007.2" cy="379.7" r="6.1"/><circle cx="1007.2" cy="380.7" r="6.1"/><circle cx="1007.2" cy="381.7" r="6.1"/><circle cx="1007.2" cy="382.7" r="6.1"/><circle cx="1007.2" cy="383.7" r="6.1"/><rect x="1001.1" y="92" width="12.2" height="29.8" fill="#000" stroke="none"/><rect x="1001.1" y="342.7" width="12.2" height="41.3" fill="#000" stroke="none"/><circle cx="1007.2" cy="40.8" r="6.1"/><circle cx="1007.2" cy="55.7" r="6.1"/><circle cx="1007.2" cy="60.7" r="6.1"/><circle cx="1007.2" cy="81.7" r="6.1"/><circle cx="1007.2" cy="84" r="6.1"/><circle cx="1007.2" cy="86" r="6.1"/><circle cx="1007.2" cy="388" r="6.1"/><circle cx="1007.2" cy="391" r="6.1"/><circle cx="1007.2" cy="396.4" r="6.1"/><circle cx="1007.2" cy="398.5" r="6.1"/><circle cx="1007.2" cy="401" r="6.1"/><circle cx="1007.2" cy="414.9" r="6.1"/><circle cx="1007.2" cy="423.7" r="6.1"/></g>
<line x1="1148.7" y1="152.7" x2="1148.7" y2="237.6" stroke="#000" stroke-width="1.4" stroke-dasharray="8 5.55"/>
<line x1="1148.7" y1="378.4" x2="1148.7" y2="294.1" stroke="#000" stroke-width="1.4" stroke-dasharray="8 5.55"/>
<line x1="1119.95" y1="153.2" x2="1177.45" y2="153.2" stroke="#000" stroke-width="1.4"/>
<line x1="1119.95" y1="377.9" x2="1177.45" y2="377.9" stroke="#000" stroke-width="1.4"/>
<rect x="1091.9" y="237.6" width="113.6" height="56.5" fill="#F4A460" stroke="#000" stroke-width="1.6"/>
<line x1="1091.9" y1="265.6" x2="1205.5" y2="265.6" stroke="#000" stroke-width="5.1"/>
<g fill="none" stroke="#000" stroke-width="1.35"><circle cx="1148.7" cy="103" r="6.1"/><circle cx="1148.7" cy="104" r="6.1"/><circle cx="1148.7" cy="105" r="6.1"/><circle cx="1148.7" cy="106" r="6.1"/><circle cx="1148.7" cy="107" r="6.1"/><circle cx="1148.7" cy="108" r="6.1"/><circle cx="1148.7" cy="109" r="6.1"/><circle cx="1148.7" cy="110" r="6.1"/><circle cx="1148.7" cy="111" r="6.1"/><circle cx="1148.7" cy="112" r="6.1"/><circle cx="1148.7" cy="113" r="6.1"/><circle cx="1148.7" cy="114" r="6.1"/><circle cx="1148.7" cy="115" r="6.1"/><circle cx="1148.7" cy="116" r="6.1"/><circle cx="1148.7" cy="117" r="6.1"/><circle cx="1148.7" cy="118" r="6.1"/><circle cx="1148.7" cy="119" r="6.1"/><circle cx="1148.7" cy="120" r="6.1"/><circle cx="1148.7" cy="121" r="6.1"/><circle cx="1148.7" cy="122" r="6.1"/><circle cx="1148.7" cy="123" r="6.1"/><circle cx="1148.7" cy="124" r="6.1"/><circle cx="1148.7" cy="125" r="6.1"/><circle cx="1148.7" cy="126" r="6.1"/><circle cx="1148.7" cy="127" r="6.1"/><circle cx="1148.7" cy="128" r="6.1"/><circle cx="1148.7" cy="129" r="6.1"/><circle cx="1148.7" cy="130" r="6.1"/><circle cx="1148.7" cy="131" r="6.1"/><circle cx="1148.7" cy="132" r="6.1"/><circle cx="1148.7" cy="133" r="6.1"/><circle cx="1148.7" cy="134" r="6.1"/><circle cx="1148.7" cy="135" r="6.1"/><circle cx="1148.7" cy="136" r="6.1"/><circle cx="1148.7" cy="137" r="6.1"/><circle cx="1148.7" cy="138" r="6.1"/><circle cx="1148.7" cy="139" r="6.1"/><circle cx="1148.7" cy="140" r="6.1"/><circle cx="1148.7" cy="141" r="6.1"/><circle cx="1148.7" cy="142" r="6.1"/><circle cx="1148.7" cy="143" r="6.1"/><circle cx="1148.7" cy="144" r="6.1"/><circle cx="1148.7" cy="145" r="6.1"/><circle cx="1148.7" cy="146" r="6.1"/><circle cx="1148.7" cy="147" r="6.1"/><circle cx="1148.7" cy="148" r="6.1"/><circle cx="1148.7" cy="149" r="6.1"/><circle cx="1148.7" cy="150" r="6.1"/><circle cx="1148.7" cy="151" r="6.1"/><circle cx="1148.7" cy="152" r="6.1"/><circle cx="1148.7" cy="153" r="6.1"/><circle cx="1148.7" cy="377.9" r="6.1"/><circle cx="1148.7" cy="378.9" r="6.1"/><circle cx="1148.7" cy="379.9" r="6.1"/><circle cx="1148.7" cy="380.9" r="6.1"/><circle cx="1148.7" cy="381.9" r="6.1"/><circle cx="1148.7" cy="382.9" r="6.1"/><circle cx="1148.7" cy="383.9" r="6.1"/><circle cx="1148.7" cy="384.9" r="6.1"/><circle cx="1148.7" cy="385.9" r="6.1"/><circle cx="1148.7" cy="386.9" r="6.1"/><circle cx="1148.7" cy="387.9" r="6.1"/><circle cx="1148.7" cy="388.9" r="6.1"/><circle cx="1148.7" cy="389.9" r="6.1"/><circle cx="1148.7" cy="390.9" r="6.1"/><circle cx="1148.7" cy="391.9" r="6.1"/><circle cx="1148.7" cy="392.9" r="6.1"/><circle cx="1148.7" cy="393.9" r="6.1"/><circle cx="1148.7" cy="394.9" r="6.1"/><circle cx="1148.7" cy="395.9" r="6.1"/><circle cx="1148.7" cy="396.9" r="6.1"/><circle cx="1148.7" cy="397.9" r="6.1"/><circle cx="1148.7" cy="398.9" r="6.1"/><circle cx="1148.7" cy="399.9" r="6.1"/><circle cx="1148.7" cy="400.9" r="6.1"/><circle cx="1148.7" cy="401.9" r="6.1"/><circle cx="1148.7" cy="402.9" r="6.1"/><circle cx="1148.7" cy="403.9" r="6.1"/><circle cx="1148.7" cy="404.9" r="6.1"/><circle cx="1148.7" cy="405.9" r="6.1"/><circle cx="1148.7" cy="406.9" r="6.1"/><circle cx="1148.7" cy="407.9" r="6.1"/><circle cx="1148.7" cy="408.9" r="6.1"/><circle cx="1148.7" cy="409.9" r="6.1"/><circle cx="1148.7" cy="410.9" r="6.1"/><circle cx="1148.7" cy="411.9" r="6.1"/><circle cx="1148.7" cy="412.9" r="6.1"/><circle cx="1148.7" cy="413.9" r="6.1"/><circle cx="1148.7" cy="414.9" r="6.1"/><circle cx="1148.7" cy="415.9" r="6.1"/><circle cx="1148.7" cy="416.9" r="6.1"/><circle cx="1148.7" cy="417.9" r="6.1"/><circle cx="1148.7" cy="418.9" r="6.1"/><circle cx="1148.7" cy="419.9" r="6.1"/><circle cx="1148.7" cy="420.9" r="6.1"/><circle cx="1148.7" cy="421.9" r="6.1"/><circle cx="1148.7" cy="422.9" r="6.1"/><circle cx="1148.7" cy="423.9" r="6.1"/><circle cx="1148.7" cy="424.9" r="6.1"/><circle cx="1148.7" cy="425.9" r="6.1"/><circle cx="1148.7" cy="426.9" r="6.1"/><circle cx="1148.7" cy="427.9" r="6.1"/><circle cx="1148.7" cy="428.9" r="6.1"/><circle cx="1148.7" cy="429.9" r="6.1"/><circle cx="1148.7" cy="430.9" r="6.1"/><circle cx="1148.7" cy="431.9" r="6.1"/><circle cx="1148.7" cy="432.9" r="6.1"/><circle cx="1148.7" cy="433.9" r="6.1"/><circle cx="1148.7" cy="434.9" r="6.1"/><circle cx="1148.7" cy="435.9" r="6.1"/><circle cx="1148.7" cy="436.9" r="6.1"/><circle cx="1148.7" cy="437.9" r="6.1"/><circle cx="1148.7" cy="438.9" r="6.1"/><circle cx="1148.7" cy="439.9" r="6.1"/><circle cx="1148.7" cy="440.9" r="6.1"/><rect x="1142.6" y="106" width="12.2" height="47.2" fill="#000" stroke="none"/><rect x="1142.6" y="380.9" width="12.2" height="60.1" fill="#000" stroke="none"/><circle cx="1148.7" cy="89.5" r="6.1"/><circle cx="1148.7" cy="93" r="6.1"/><circle cx="1148.7" cy="96.2" r="6.1"/><circle cx="1148.7" cy="99.8" r="6.1"/><circle cx="1148.7" cy="443.5" r="6.1"/><circle cx="1148.7" cy="448" r="6.1"/><circle cx="1148.7" cy="452" r="6.1"/><circle cx="1148.7" cy="455" r="6.1"/><circle cx="1148.7" cy="459" r="6.1"/><circle cx="1148.7" cy="462.5" r="6.1"/><circle cx="1148.7" cy="467.6" r="6.1"/></g>
<line x1="1290.2" y1="181.5" x2="1290.2" y2="269.9" stroke="#000" stroke-width="1.4" stroke-dasharray="8 5.55"/>
<line x1="1290.2" y1="417.6" x2="1290.2" y2="328.8" stroke="#000" stroke-width="1.4" stroke-dasharray="8 5.55"/>
<line x1="1261.45" y1="182" x2="1318.95" y2="182" stroke="#000" stroke-width="1.4"/>
<line x1="1261.45" y1="417.1" x2="1318.95" y2="417.1" stroke="#000" stroke-width="1.4"/>
<rect x="1233.4" y="269.9" width="113.6" height="58.9" fill="#8B4513" stroke="#000" stroke-width="1.6"/>
<line x1="1233.4" y1="298.9" x2="1347" y2="298.9" stroke="#000" stroke-width="5.1"/>
<g fill="none" stroke="#000" stroke-width="1.35"><circle cx="1290.2" cy="141.5" r="6.1"/><circle cx="1290.2" cy="142.5" r="6.1"/><circle cx="1290.2" cy="143.5" r="6.1"/><circle cx="1290.2" cy="144.5" r="6.1"/><circle cx="1290.2" cy="145.5" r="6.1"/><circle cx="1290.2" cy="146.5" r="6.1"/><circle cx="1290.2" cy="147.5" r="6.1"/><circle cx="1290.2" cy="148.5" r="6.1"/><circle cx="1290.2" cy="149.5" r="6.1"/><circle cx="1290.2" cy="150.5" r="6.1"/><circle cx="1290.2" cy="151.5" r="6.1"/><circle cx="1290.2" cy="152.5" r="6.1"/><circle cx="1290.2" cy="153.5" r="6.1"/><circle cx="1290.2" cy="154.5" r="6.1"/><circle cx="1290.2" cy="155.5" r="6.1"/><circle cx="1290.2" cy="156.5" r="6.1"/><circle cx="1290.2" cy="157.5" r="6.1"/><circle cx="1290.2" cy="158.5" r="6.1"/><circle cx="1290.2" cy="159.5" r="6.1"/><circle cx="1290.2" cy="160.5" r="6.1"/><circle cx="1290.2" cy="161.5" r="6.1"/><circle cx="1290.2" cy="162.5" r="6.1"/><circle cx="1290.2" cy="163.5" r="6.1"/><circle cx="1290.2" cy="164.5" r="6.1"/><circle cx="1290.2" cy="165.5" r="6.1"/><circle cx="1290.2" cy="166.5" r="6.1"/><circle cx="1290.2" cy="167.5" r="6.1"/><circle cx="1290.2" cy="168.5" r="6.1"/><circle cx="1290.2" cy="169.5" r="6.1"/><circle cx="1290.2" cy="170.5" r="6.1"/><circle cx="1290.2" cy="171.5" r="6.1"/><circle cx="1290.2" cy="172.5" r="6.1"/><circle cx="1290.2" cy="173.5" r="6.1"/><circle cx="1290.2" cy="174.5" r="6.1"/><circle cx="1290.2" cy="175.5" r="6.1"/><circle cx="1290.2" cy="176.5" r="6.1"/><circle cx="1290.2" cy="177.5" r="6.1"/><circle cx="1290.2" cy="178.5" r="6.1"/><circle cx="1290.2" cy="179.5" r="6.1"/><circle cx="1290.2" cy="180.5" r="6.1"/><circle cx="1290.2" cy="181.5" r="6.1"/><circle cx="1290.2" cy="417.1" r="6.1"/><circle cx="1290.2" cy="418.1" r="6.1"/><circle cx="1290.2" cy="419.1" r="6.1"/><circle cx="1290.2" cy="420.1" r="6.1"/><circle cx="1290.2" cy="421.1" r="6.1"/><circle cx="1290.2" cy="422.1" r="6.1"/><circle cx="1290.2" cy="423.1" r="6.1"/><circle cx="1290.2" cy="424.1" r="6.1"/><circle cx="1290.2" cy="425.1" r="6.1"/><circle cx="1290.2" cy="426.1" r="6.1"/><circle cx="1290.2" cy="427.1" r="6.1"/><circle cx="1290.2" cy="428.1" r="6.1"/><circle cx="1290.2" cy="429.1" r="6.1"/><circle cx="1290.2" cy="430.1" r="6.1"/><circle cx="1290.2" cy="431.1" r="6.1"/><circle cx="1290.2" cy="432.1" r="6.1"/><circle cx="1290.2" cy="433.1" r="6.1"/><circle cx="1290.2" cy="434.1" r="6.1"/><circle cx="1290.2" cy="435.1" r="6.1"/><circle cx="1290.2" cy="436.1" r="6.1"/><circle cx="1290.2" cy="437.1" r="6.1"/><circle cx="1290.2" cy="438.1" r="6.1"/><circle cx="1290.2" cy="439.1" r="6.1"/><circle cx="1290.2" cy="440.1" r="6.1"/><circle cx="1290.2" cy="441.1" r="6.1"/><circle cx="1290.2" cy="442.1" r="6.1"/><circle cx="1290.2" cy="443.1" r="6.1"/><circle cx="1290.2" cy="444.1" r="6.1"/><circle cx="1290.2" cy="445.1" r="6.1"/><circle cx="1290.2" cy="446.1" r="6.1"/><circle cx="1290.2" cy="447.1" r="6.1"/><circle cx="1290.2" cy="448.1" r="6.1"/><circle cx="1290.2" cy="449.1" r="6.1"/><circle cx="1290.2" cy="450.1" r="6.1"/><circle cx="1290.2" cy="451.1" r="6.1"/><circle cx="1290.2" cy="452.1" r="6.1"/><circle cx="1290.2" cy="453.1" r="6.1"/><circle cx="1290.2" cy="454.1" r="6.1"/><circle cx="1290.2" cy="455.1" r="6.1"/><circle cx="1290.2" cy="456.1" r="6.1"/><circle cx="1290.2" cy="457.1" r="6.1"/><circle cx="1290.2" cy="458.1" r="6.1"/><circle cx="1290.2" cy="459.1" r="6.1"/><circle cx="1290.2" cy="460.1" r="6.1"/><circle cx="1290.2" cy="461.1" r="6.1"/><circle cx="1290.2" cy="462.1" r="6.1"/><circle cx="1290.2" cy="463.1" r="6.1"/><circle cx="1290.2" cy="464.1" r="6.1"/><circle cx="1290.2" cy="465.1" r="6.1"/><circle cx="1290.2" cy="466.1" r="6.1"/><circle cx="1290.2" cy="467.1" r="6.1"/><circle cx="1290.2" cy="468.1" r="6.1"/><circle cx="1290.2" cy="469.1" r="6.1"/><circle cx="1290.2" cy="470.1" r="6.1"/><circle cx="1290.2" cy="471.1" r="6.1"/><circle cx="1290.2" cy="472.1" r="6.1"/><circle cx="1290.2" cy="473.1" r="6.1"/><circle cx="1290.2" cy="474.1" r="6.1"/><circle cx="1290.2" cy="475.1" r="6.1"/><circle cx="1290.2" cy="476.1" r="6.1"/><rect x="1284.1" y="144.5" width="12.2" height="37.5" fill="#000" stroke="none"/><rect x="1284.1" y="420.1" width="12.2" height="56.9" fill="#000" stroke="none"/><circle cx="1290.2" cy="65.1" r="6.1"/><circle cx="1290.2" cy="115.6" r="6.1"/><circle cx="1290.2" cy="124.6" r="6.1"/><circle cx="1290.2" cy="127.3" r="6.1"/><circle cx="1290.2" cy="130.5" r="6.1"/><circle cx="1290.2" cy="132.5" r="6.1"/><circle cx="1290.2" cy="136" r="6.1"/><circle cx="1290.2" cy="138.5" r="6.1"/><circle cx="1290.2" cy="480" r="6.1"/><circle cx="1290.2" cy="483" r="6.1"/><circle cx="1290.2" cy="486" r="6.1"/><circle cx="1290.2" cy="489.5" r="6.1"/><circle cx="1290.2" cy="491.5" r="6.1"/><circle cx="1290.2" cy="498.5" r="6.1"/></g>
<line x1="1431.7" y1="199.8" x2="1431.7" y2="294.3" stroke="#000" stroke-width="1.4" stroke-dasharray="8 5.55"/>
<line x1="1431.7" y1="451.5" x2="1431.7" y2="357.8" stroke="#000" stroke-width="1.4" stroke-dasharray="8 5.55"/>
<line x1="1402.95" y1="200.3" x2="1460.45" y2="200.3" stroke="#000" stroke-width="1.4"/>
<line x1="1402.95" y1="451" x2="1460.45" y2="451" stroke="#000" stroke-width="1.4"/>
<rect x="1374.9" y="294.3" width="113.6" height="63.5" fill="#000000" stroke="#000" stroke-width="1.6"/>
<line x1="1374.9" y1="325" x2="1488.5" y2="325" stroke="#000" stroke-width="5.1"/>
<g fill="none" stroke="#000" stroke-width="1.35"><circle cx="1431.7" cy="179" r="6.1"/><circle cx="1431.7" cy="180" r="6.1"/><circle cx="1431.7" cy="181" r="6.1"/><circle cx="1431.7" cy="182" r="6.1"/><circle cx="1431.7" cy="183" r="6.1"/><circle cx="1431.7" cy="184" r="6.1"/><circle cx="1431.7" cy="185" r="6.1"/><circle cx="1431.7" cy="186" r="6.1"/><circle cx="1431.7" cy="187" r="6.1"/><circle cx="1431.7" cy="188" r="6.1"/><circle cx="1431.7" cy="189" r="6.1"/><circle cx="1431.7" cy="190" r="6.1"/><circle cx="1431.7" cy="191" r="6.1"/><circle cx="1431.7" cy="192" r="6.1"/><circle cx="1431.7" cy="193" r="6.1"/><circle cx="1431.7" cy="194" r="6.1"/><circle cx="1431.7" cy="195" r="6.1"/><circle cx="1431.7" cy="196" r="6.1"/><circle cx="1431.7" cy="197" r="6.1"/><circle cx="1431.7" cy="198" r="6.1"/><circle cx="1431.7" cy="199" r="6.1"/><circle cx="1431.7" cy="200" r="6.1"/><circle cx="1431.7" cy="451" r="6.1"/><circle cx="1431.7" cy="452" r="6.1"/><circle cx="1431.7" cy="453" r="6.1"/><circle cx="1431.7" cy="454" r="6.1"/><circle cx="1431.7" cy="455" r="6.1"/><circle cx="1431.7" cy="456" r="6.1"/><circle cx="1431.7" cy="457" r="6.1"/><circle cx="1431.7" cy="458" r="6.1"/><circle cx="1431.7" cy="459" r="6.1"/><circle cx="1431.7" cy="460" r="6.1"/><circle cx="1431.7" cy="461" r="6.1"/><circle cx="1431.7" cy="462" r="6.1"/><circle cx="1431.7" cy="463" r="6.1"/><circle cx="1431.7" cy="464" r="6.1"/><circle cx="1431.7" cy="465" r="6.1"/><circle cx="1431.7" cy="466" r="6.1"/><circle cx="1431.7" cy="467" r="6.1"/><circle cx="1431.7" cy="468" r="6.1"/><circle cx="1431.7" cy="469" r="6.1"/><circle cx="1431.7" cy="470" r="6.1"/><circle cx="1431.7" cy="471" r="6.1"/><circle cx="1431.7" cy="472" r="6.1"/><circle cx="1431.7" cy="473" r="6.1"/><rect x="1425.6" y="182" width="12.2" height="18.3" fill="#000" stroke="none"/><rect x="1425.6" y="454" width="12.2" height="19" fill="#000" stroke="none"/><circle cx="1431.7" cy="153.5" r="6.1"/><circle cx="1431.7" cy="161.1" r="6.1"/><circle cx="1431.7" cy="163.3" r="6.1"/><circle cx="1431.7" cy="480.6" r="6.1"/><circle cx="1431.7" cy="484" r="6.1"/><circle cx="1431.7" cy="489.8" r="6.1"/><circle cx="1431.7" cy="501.2" r="6.1"/><circle cx="1431.7" cy="513.3" r="6.1"/><circle cx="1431.7" cy="515.7" r="6.1"/></g>
</svg>
</body></html>
